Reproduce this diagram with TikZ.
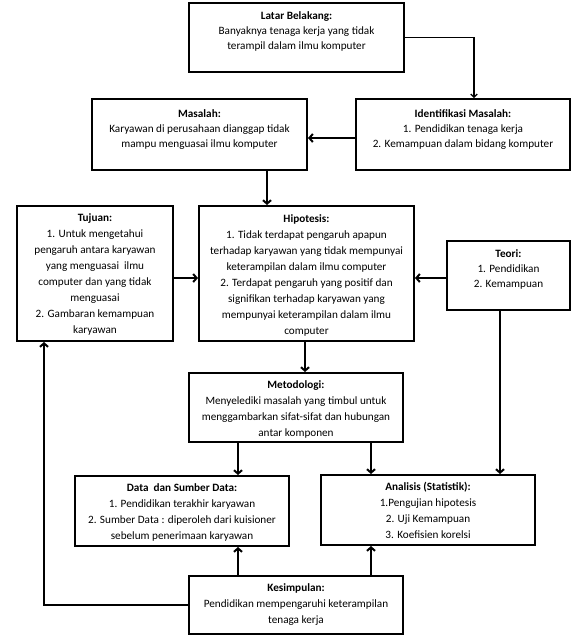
\documentclass[tikz,border=0pt]{standalone}
\usepackage{fontspec}
\setmainfont{Carlito}
\usetikzlibrary{arrows.meta,fit}
\begin{document}
\begin{tikzpicture}[x=1pt,y=-1pt,
  box/.style={draw, line width=2pt, inner sep=0pt, fill=white},
  tsixteen/.style={font=\fontsize{11.2}{16}\selectfont, align=center, inner sep=0pt, anchor=north},
  tfifteen/.style={font=\fontsize{11.2}{15}\selectfont, align=center, inner sep=0pt, anchor=north},
  arr/.style={line width=2pt, -{Straight Barb[length=3.5pt,width=8pt]}},
  thinarr/.style={line width=1.3pt, -{Straight Barb[length=3pt,width=6.5pt]}}]
\useasboundingbox (0,0) rectangle (583,641);

% boxes
\node[box, fit={(189,3) (404,72)}] (latar) {};
\node[box, fit={(92,99) (307,170)}] (masalah) {};
\node[box, fit={(356,99) (570,170)}] (ident) {};
\node[box, fit={(17,206) (173,341)}] (tujuan) {};
\node[box, fit={(199,206) (414,341)}] (hipo) {};
\node[box, fit={(447,241) (570,310)}] (teori) {};
\node[box, fit={(189,373) (403,442)}] (metod) {};
\node[box, fit={(75,476) (289,546)}] (data) {};
\node[box, fit={(321,475) (535,545)}] (anal) {};
\node[box, fit={(189,576) (403,634)}] (kesim) {};

% texts
\node[tfifteen] (latarT) at (296.5,9) {\strut\textbf{Latar Belakang:}\\Banyaknya tenaga kerja yang tidak\\terampil dalam ilmu komputer};
\node[tfifteen] (masalahT) at (199.5,107) {\strut\textbf{Masalah:}\\Karyawan di perusahaan dianggap tidak\\mampu menguasai ilmu komputer};
\node[tfifteen] (identT) at (463,107) {\strut\textbf{Identifikasi Masalah:}\\1. Pendidikan tenaga kerja\\2. Kemampuan dalam bidang komputer};
\node[tsixteen] (tujuanT) at (95,210.3) {\strut\textbf{Tujuan:}\\1. Untuk mengetahui\\pengaruh antara karyawan\\yang menguasai\ \ ilmu\\computer dan yang tidak\\menguasai\\2. Gambaran kemampuan\\karyawan};
\node[tsixteen] (hipoT) at (306.5,211.3) {\strut\textbf{Hipotesis:}\\1. Tidak terdapat pengaruh apapun\\terhadap karyawan yang tidak mempunyai\\keterampilan dalam ilmu computer\\2. Terdapat pengaruh yang positif dan\\signifikan terhadap karyawan yang\\mempunyai keterampilan dalam ilmu\\computer};
\node[tfifteen] (teoriT) at (508.5,247) {\strut\textbf{Teori:}\\1. Pendidikan\\2. Kemampuan};
\node[tsixteen] (metodT) at (296,377.3) {\strut\textbf{Metodologi:}\\Menyelediki masalah yang timbul untuk\\menggambarkan sifat-sifat dan hubungan\\antar komponen};
\node[tsixteen] (dataT) at (182,480.3) {\strut\textbf{Data\ \ dan Sumber Data:}\\1. Pendidikan terakhir karyawan\\2. Sumber Data : diperoleh dari kuisioner\\sebelum penerimaan karyawan};
\node[tsixteen] (analT) at (428,479.3) {\strut\textbf{Analisis (Statistik):}\\1.Pengujian hipotesis\\2. Uji Kemampuan\\3. Koefisien korelsi};
\node[tsixteen] (kesimT) at (296,580.3) {\strut\textbf{Kesimpulan:}\\Pendidikan mempengaruhi keterampilan\\tenaga kerja};

% helper coordinates
\coordinate (xa) at (474,0);
\coordinate (xb) at (267,0);
\coordinate (xc) at (305,0);
\coordinate (xd) at (238,0);
\coordinate (xe) at (371,0);
\coordinate (xf) at (500,0);
\coordinate (xg) at (44,0);
\coordinate (ya) at (0,138);
\coordinate (yb) at (0,278);

% connectors
\draw[thinarr] (latar.east) -| (ident.north -| xa);
\draw[arr] (ident.west |- ya) -- (masalah.east |- ya);
\draw[arr] (masalah.south -| xb) -- (hipo.north -| xb);
\draw[arr] (tujuan.east |- yb) -- (hipo.west |- yb);
\draw[arr] (teori.west |- yb) -- (hipo.east |- yb);
\draw[arr] (hipo.south -| xc) -- (metod.north -| xc);
\draw[arr] (metod.south -| xd) -- (data.north -| xd);
\draw[arr] (metod.south -| xe) -- (anal.north -| xe);
\draw[arr] (teori.south -| xf) -- (anal.north -| xf);
\draw[arr] (kesim.north -| xd) -- (data.south -| xd);
\draw[arr] (kesim.north -| xe) -- (anal.south -| xe);
\draw[arr] (kesim.west) -| (tujuan.south -| xg);
\end{tikzpicture}
\end{document}
